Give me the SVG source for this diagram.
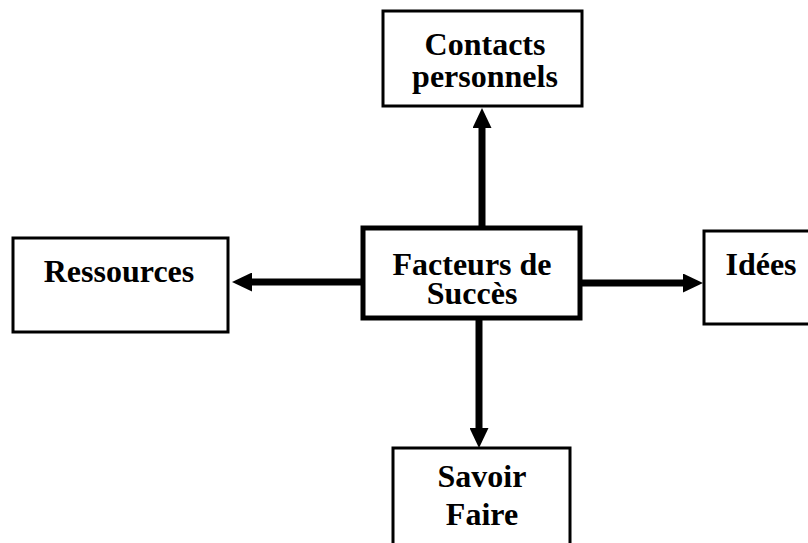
<svg xmlns="http://www.w3.org/2000/svg" width="808" height="543" viewBox="0 0 808 543">
<style>
.box{fill:#fff;stroke:#000;stroke-width:3}
.main{stroke-width:5}
.lbl{font-family:"Liberation Serif","Times New Roman",serif;font-weight:bold;font-size:32px;fill:#000;text-anchor:middle}
.conn{stroke:#000;stroke-width:7;fill:none;marker-end:url(#ah)}
</style>
<defs>
<marker id="ah" markerUnits="userSpaceOnUse" viewBox="0 0 20 19" markerWidth="20" markerHeight="19" refX="0" refY="9.5" orient="auto">
<path d="M0,0 L20,9.5 L0,19 Z" fill="#000"/>
</marker>
</defs>
<rect width="808" height="543" fill="#fff"/>
<g id="connectors">
<line class="conn" x1="482" y1="226" x2="482" y2="128"/>
<line class="conn" x1="362" y1="282" x2="252" y2="282"/>
<line class="conn" x1="581" y1="283" x2="683" y2="283"/>
<line class="conn" x1="479" y1="320" x2="479" y2="428"/>
</g>
<g id="contacts">
<rect class="box" x="383" y="11" width="199" height="95"/>
<text class="lbl" x="485" y="55">Contacts</text>
<text class="lbl" x="485" y="87">personnels</text>
</g>
<g id="facteurs">
<rect class="box main" x="363" y="228" width="217" height="90"/>
<text class="lbl" x="472" y="275">Facteurs de</text>
<text class="lbl" x="472" y="304">Succès</text>
</g>
<g id="ressources">
<rect class="box" x="13" y="238" width="215" height="94"/>
<text class="lbl" x="119" y="282">Ressources</text>
</g>
<g id="idees">
<rect class="box" x="704" y="231" width="110" height="93"/>
<text class="lbl" x="761" y="275">Idées</text>
</g>
<g id="savoir">
<rect class="box" x="393" y="448" width="177" height="110"/>
<text class="lbl" x="482" y="487">Savoir</text>
<text class="lbl" x="482" y="525">Faire</text>
</g>
</svg>
